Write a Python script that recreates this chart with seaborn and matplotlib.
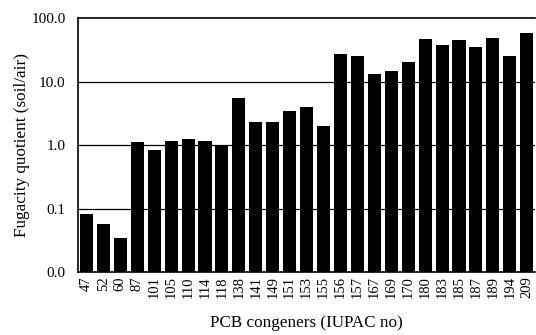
import matplotlib
matplotlib.use("Agg")
import matplotlib.pyplot as plt
import seaborn as sns
import pandas as pd
from matplotlib.ticker import FixedLocator, FixedFormatter, NullLocator

congeners = ["47", "52", "60", "87", "101", "105", "110", "114", "118", "138",
             "141", "149", "151", "153", "155", "156", "157", "167", "169", "170",
             "180", "183", "185", "187", "189", "194", "209"]
quotient = [0.083, 0.057, 0.034, 1.10, 0.85, 1.14, 1.25, 1.14, 1.0, 5.6,
            2.3, 2.3, 3.4, 4.0, 1.98, 27.5, 25.0, 13.2, 14.8, 20.0,
            46.0, 37.5, 45.0, 35.0, 49.0, 25.0, 58.0]
ytick_vals = [0.01, 0.1, 1, 10, 100]
ytick_labels = ["0.0", "0.1", "1.0", "10.0", "100.0"]

df = pd.DataFrame({"congener": congeners, "q": quotient})

sns.set_theme(style="white")
plt.rcParams["font.family"] = ["Liberation Serif", "DejaVu Serif"]

fig = plt.figure(figsize=(5.36, 3.35), dpi=100)
ax = fig.add_axes([0.1455, 0.188, 0.853, 0.758])

sns.barplot(data=df, x="congener", y="q", order=congeners, color="black",
            width=0.77, saturation=1, ax=ax, linewidth=0, zorder=2)
ax.set_yscale("log", nonpositive="clip")

ax.set_ylim(0.01, 100)
ax.set_xlim(-0.5, len(congeners) - 0.5)
ax.yaxis.set_major_locator(FixedLocator(ytick_vals))
ax.yaxis.set_major_formatter(FixedFormatter(ytick_labels))
ax.yaxis.set_minor_locator(NullLocator())

for v in [0.1, 1, 10]:
    ax.axhline(v, color="black", linewidth=0.9, zorder=1)

for s in ax.spines.values():
    s.set_visible(True)
    s.set_color("black")
    s.set_linewidth(1.2)
ax.spines["right"].set_visible(False)

ax.tick_params(axis="both", length=0, colors="black")
ax.tick_params(axis="y", labelsize=11, pad=9)
ax.tick_params(axis="x", labelsize=10.5, rotation=90, pad=3)

ax.set_xlabel("PCB congeners (IUPAC no)", fontsize=12.3, color="black", labelpad=12)
ax.set_ylabel("Fugacity quotient (soil/air)", fontsize=12.3, color="black", labelpad=1)

fig.savefig("out.png", dpi=100)
